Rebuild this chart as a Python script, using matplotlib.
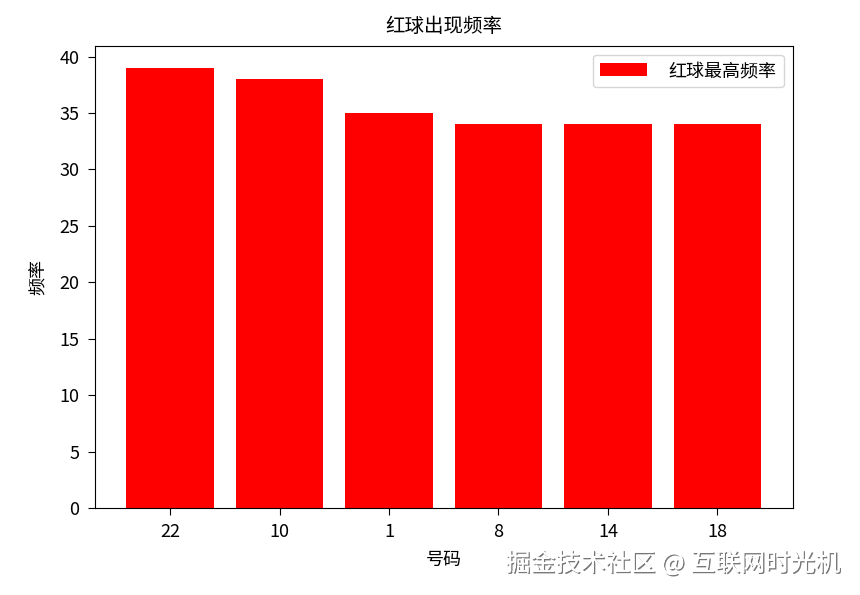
import matplotlib
matplotlib.use("Agg")
import matplotlib.pyplot as plt
import matplotlib.patheffects as pe

plt.rcParams['font.family'] = ['Noto Sans CJK SC', 'DejaVu Sans']
plt.rcParams['axes.unicode_minus'] = False

# data
numbers = ["22", "10", "1", "8", "14", "18"]
counts = [39, 38, 35, 34, 34, 34]

fig = plt.figure(figsize=(8.6, 5.95), dpi=100)
ax = fig.add_axes([0.110, 0.146, 0.812, 0.777])
ax.bar(numbers, counts, width=0.8, color="red", label="红球最高频率")
ax.set_title("红球出现频率", fontsize=14, pad=10)
ax.set_xlabel("号码", fontsize=13, labelpad=7)
ax.set_ylabel("频率", fontsize=13, labelpad=8)
ax.tick_params(labelsize=13, length=5, pad=6)
ax.legend(fontsize=13, loc="upper right", handlelength=2.6, handletextpad=1.2)

# watermark
fig.text(0.977, 0.053, "掘金技术社区 @ 互联网时光机", ha="right", va="center",
         fontsize=18, color="white",
         path_effects=[pe.withSimplePatchShadow(offset=(1, -1), shadow_rgbFace="#555555", alpha=0.8),
                       pe.Normal()])

fig.savefig("out.png", dpi=100)
